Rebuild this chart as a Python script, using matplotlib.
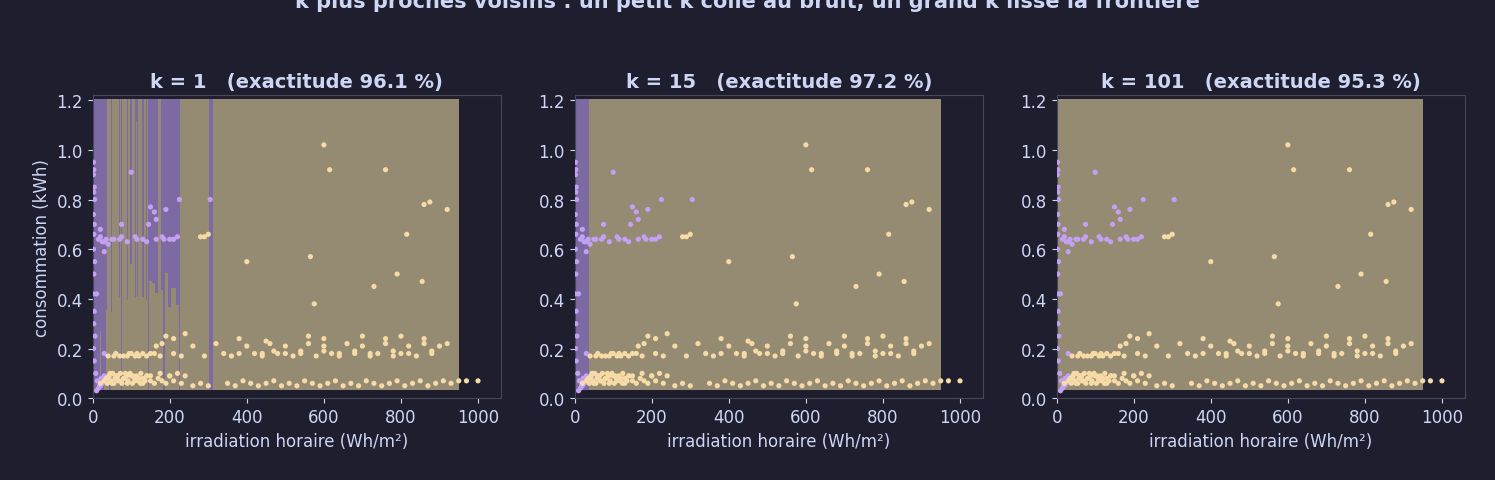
import numpy as np
import matplotlib
matplotlib.use("Agg")
import matplotlib.pyplot as plt
from matplotlib.colors import ListedColormap

# ---- data ----
purple_x = [2,3,2,4,3,5,2,4,3,2,5,3,2,4,3,6,2,4,8,12,18,22,25,10,15,20,28,30,
            15,20,25,30,35,40,50,55,70,75,90,110,115,130,140,165,180,185,200,210,220,
            100,20,75,145,150,160,165,190,225,305,30,10,30,45]
purple_y = [0.95,0.92,0.90,0.85,0.83,0.80,0.74,0.70,0.66,0.60,0.55,0.50,0.42,0.35,0.30,0.25,0.20,0.15,
            0.10,0.07,0.05,0.08,0.06,0.03,0.04,0.05,0.07,0.09,
            0.64,0.65,0.63,0.63,0.64,0.62,0.64,0.64,0.64,0.65,0.63,0.65,0.64,0.64,0.63,0.64,0.65,0.64,0.64,0.64,0.65,
            0.91,0.68,0.70,0.70,0.77,0.75,0.72,0.76,0.80,0.80,0.59,0.42,0.18,0.09]
yellow_x = [20,30,40,50,60,70,80,90,100,110,120,130,140,150,160,170,180,190,200,210,230,260,280,300,
            350,370,390,410,430,450,470,490,510,530,550,570,590,610,630,650,670,690,710,730,750,770,
            790,810,830,850,870,890,910,930,950,970,1000,45,65,85,105,125,150,175,200,220,240,
            40,70,95,120,150,175,180,210,230,260,290,320,340,360,380,400,420,440,460,480,500,520,
            540,560,580,600,620,640,660,680,700,720,740,760,780,800,820,840,860,880,900,920,
            190,210,240,380,450,560,600,700,760,800,860,
            600,615,760,860,875,920,815,400,565,575,730,790,855,280,290,300,
            35,38,42,48,52,55,58,62,66,72,76,82,88,92,97,103,108,114,118,124,130,136,142,
            55,60,80,100,110,130,140,160,165,90,115,
            600,640,680,720,780,820,880,500,540,440,470]
yellow_y = [0.06,0.07,0.08,0.06,0.09,0.07,0.08,0.06,0.09,0.07,0.08,0.06,0.09,0.07,0.06,0.08,0.07,0.06,0.09,0.07,0.06,0.05,0.06,0.05,
            0.06,0.05,0.07,0.06,0.05,0.06,0.07,0.05,0.06,0.05,0.07,0.06,0.05,0.06,0.07,0.05,0.06,0.05,0.07,0.06,0.05,0.06,
            0.07,0.05,0.06,0.07,0.05,0.06,0.07,0.06,0.07,0.07,0.07,0.10,0.09,0.10,0.09,0.10,0.09,0.10,0.09,0.10,0.09,
            0.17,0.17,0.18,0.17,0.18,0.17,0.22,0.18,0.17,0.21,0.17,0.22,0.18,0.17,0.18,0.21,0.18,0.17,0.22,0.18,0.21,0.17,
            0.18,0.22,0.17,0.21,0.18,0.17,0.22,0.18,0.21,0.17,0.18,0.22,0.17,0.18,0.21,0.17,0.22,0.18,0.21,0.22,
            0.25,0.24,0.26,0.24,0.23,0.25,0.24,0.25,0.24,0.25,0.24,
            1.02,0.92,0.92,0.78,0.79,0.76,0.66,0.55,0.57,0.38,0.45,0.50,0.47,0.65,0.65,0.66,
            0.08,0.06,0.09,0.07,0.10,0.06,0.08,0.09,0.07,0.10,0.06,0.08,0.09,0.07,0.10,0.06,0.08,0.09,0.07,0.06,0.08,0.07,0.09,
            0.17,0.18,0.17,0.18,0.17,0.18,0.17,0.18,0.21,0.17,0.18,
            0.19,0.18,0.19,0.18,0.19,0.18,0.19,0.18,0.19,0.18,0.19]
ks = [1, 15, 101]
accs = [96.1, 97.2, 95.3]
title = "k plus proches voisins : un petit k colle au bruit, un grand k lisse la frontière"

BG = "#1e1e2e"; FG = "#cdd6f4"
PUR = "#c4a0f5"; YEL = "#f7dba7"
X = np.column_stack([purple_x + yellow_x, purple_y + yellow_y])
lab = np.array([0]*len(purple_x) + [1]*len(yellow_x))

gx = np.linspace(min(X[:,0]), 950, 500)
gy = np.linspace(0.04, 1.2, 120)
GX, GY = np.meshgrid(gx, gy)
G = np.column_stack([GX.ravel(), GY.ravel()])
d = (G[:,None,0]-X[None,:,0])**2 + (G[:,None,1]-X[None,:,1])**2
order = np.argsort(d, axis=1)

fig, axes = plt.subplots(1, 3, figsize=(14.95, 4.81), dpi=100, facecolor=BG)
fig.suptitle(title, color=FG, fontsize=15, fontweight="bold", y=1.02)
cmap = ListedColormap(["#7d6aa3", "#958a72"])
for i, (ax, k, a) in enumerate(zip(axes, ks, accs)):
    ax.set_facecolor(BG)
    pred = (lab[order[:, :k]].mean(axis=1) > 0.5).astype(int).reshape(GX.shape)
    ax.pcolormesh(GX, GY, pred, cmap=cmap, vmin=0, vmax=1, shading="auto")
    ax.scatter(purple_x, purple_y, s=14, color=PUR, edgecolors="none", zorder=3)
    ax.scatter(yellow_x, yellow_y, s=14, color=YEL, edgecolors="none", zorder=3)
    ax.set_xlim(0, 1060); ax.set_ylim(0, 1.22)
    ax.set_xticks([0,200,400,600,800,1000]); ax.set_yticks(np.arange(0,1.21,0.2))
    ax.set_yticklabels([f"{v:.1f}" for v in np.arange(0,1.21,0.2)])
    ax.set_title(f"k = {k}   (exactitude {a} %)", color=FG, fontsize=14, fontweight="bold")
    ax.set_xlabel("irradiation horaire (Wh/m²)", color=FG, fontsize=12)
    if i == 0:
        ax.set_ylabel("consommation (kWh)", color=FG, fontsize=12)
    ax.tick_params(colors=FG, labelsize=12)
    for s in ax.spines.values():
        s.set_color("#45475a")
plt.subplots_adjust(left=0.062, right=0.98, top=0.8, bottom=0.17, wspace=0.18)
fig.savefig("out.png", facecolor=BG)
